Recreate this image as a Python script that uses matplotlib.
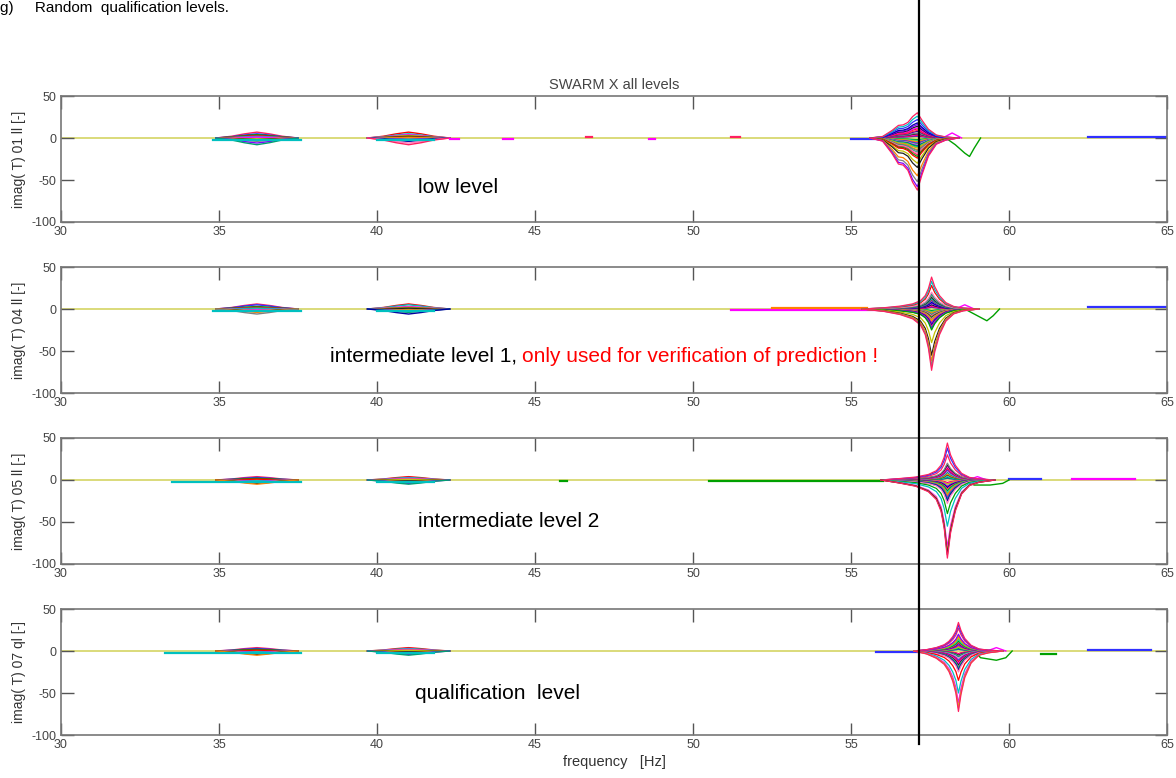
import matplotlib
matplotlib.use("Agg")
import matplotlib.pyplot as plt
import matplotlib.transforms as mtransforms

plt.rcParams["font.family"] = ["Liberation Sans", "DejaVu Sans"]

# panel layout data
level_names = ["low level", "intermediate level 1, ", "intermediate level 2", "qualification  level"]
level_pos = [(41.3, -59), (38.5, -56), (41.3, -49), (41.2, -51)]
ylabels = ["imag( T) 01 ll [-]", "imag( T) 04 ll [-]", "imag( T) 05 ll [-]", "imag( T) 07 ql [-]"]
xticks = [30, 35, 40, 45, 50, 55, 60, 65]
yticks = [-100, -50, 0, 50]
cursor_freq = 57.16

# main resonance: peak frequency per level and normalised envelope shape
peak_freq = [57.1, 57.55, 58.05, 58.4]
shape_df = [
    [-1.5, -1.1, -0.8, -0.6, -0.45, -0.3, -0.15, 0.0, 0.15, 0.35, 0.6, 0.9, 1.3],
    [-2.2, -1.5, -1.0, -0.6, -0.35, -0.2, -0.1, 0.0, 0.1, 0.25, 0.45, 0.7, 1.0, 1.5],
    [-2.1, -1.5, -1.0, -0.6, -0.35, -0.2, -0.1, 0.0, 0.1, 0.25, 0.45, 0.7, 1.0, 1.5],
    [-1.4, -1.0, -0.7, -0.45, -0.3, -0.18, -0.08, 0.0, 0.08, 0.2, 0.4, 0.65, 0.95, 1.4],
]
shape_val = [
    [0.0, 0.06, 0.30, 0.50, 0.52, 0.62, 0.85, 1.0, 0.70, 0.35, 0.12, 0.04, 0.0],
    [0.0, 0.04, 0.09, 0.16, 0.26, 0.42, 0.64, 1.0, 0.70, 0.42, 0.20, 0.08, 0.03, 0.0],
    [0.0, 0.04, 0.08, 0.15, 0.25, 0.40, 0.62, 1.0, 0.68, 0.40, 0.18, 0.07, 0.03, 0.0],
    [0.0, 0.05, 0.12, 0.22, 0.34, 0.50, 0.70, 1.0, 0.72, 0.44, 0.20, 0.07, 0.03, 0.0],
]
peak_amp = [
    [30, 26, 22, 18, 16, 14, 12, 11, 9, 8, 6, 5, 4, 3, 2, -2, -3, -4, -5, -6, -7, -8, -9,
     -10, -11, -12, -14, -15, -17, -18, -20, -22, -24, -30, -35, -45, -52, -58, -62],
    [38, 33, 28, 20, 18, 16, 14, 12, 11, 10, 8, 7, 5, 4, 3, 2, -2, -3, -4, -5, -6,
     -7, -8, -9, -10, -12, -13, -15, -17, -19, -21, -23, -25, -40, -55, -62, -68, -73],
    [44, 38, 30, 20, 18, 16, 14, 12, 11, 9, 7, 6, 4, 3, 2, -3, -4, -5, -7, -8, -9,
     -11, -13, -15, -17, -19, -21, -23, -25, -28, -40, -55, -80, -86, -89, -93],
    [34, 31, 27, 20, 18, 16, 14, 12, 10, 9, 7, 6, 5, 4, 3, 2, -3, -4, -5, -6, -7, -9,
     -11, -13, -15, -17, -19, -21, -23, -25, -35, -50, -62, -68, -72],
]

# small modes near 36 Hz and 41 Hz
bump_freq = [36.2, 41.0]
bump_df = [-1.3, -0.8, -0.4, 0.0, 0.4, 0.8, 1.3]
bump_val = [0.0, 0.3, 0.7, 1.0, 0.7, 0.3, 0.0]
bump_amp = [
    [7, 5, 4, 3, 2, 1, -1, -2, -3, -4, -6, -8],
    [6, 5, 3, 2, 1, -1, -2, -3, -4, -6],
    [4, 3, 2, 1, -1, -2, -3, -4, -5],
    [4, 3, 2, 1, -1, -2, -3, -4, -5],
]

# secondary response curves (frequency, value)
side_f = [
    [58.0, 58.3, 58.6, 58.75, 58.9, 59.1],
    [58.6, 59.0, 59.3, 59.5, 59.7],
    [58.5, 58.9, 59.4, 59.8, 60.0],
    [58.9, 59.1, 59.6, 59.9, 60.1],
]
side_v = [
    [0, -8, -18, -22, -12, 0],
    [0, -8, -14, -8, 0],
    [0, -6, -6, -4, 0],
    [0, -8, -11, -8, 0],
]
side_bump_f = [58.2, 58.6, 59.0, 59.6]
side_bump_v = [6, 5, 4, 4]

# offset segments along the baseline (start, end, level, colour)
offsets = [
    [(34.8, 37.6, -2.0, "#00c0c0"), (40.0, 41.8, -2.0, "#00c0c0"), (55.0, 56.2, -1.0, "#3030ff"),
     (42.3, 42.6, -1.0, "#ff00ff"), (44.0, 44.3, -1.0, "#ff00ff"), (46.6, 46.8, 1.0, "#ff2060"),
     (48.6, 48.8, -1.0, "#ff00ff"), (51.2, 51.5, 1.0, "#ff2060"), (62.5, 65.0, 1.0, "#3030ff")],
    [(34.8, 37.6, -2.0, "#00c0c0"), (40.0, 41.8, -2.0, "#00c0c0"), (51.2, 56.0, -1.0, "#ff00ff"),
     (52.5, 55.5, 1.0, "#ff8000"), (62.5, 65.0, 2.0, "#3030ff")],
    [(33.5, 37.6, -2.5, "#00c0c0"), (40.0, 41.8, -2.0, "#00c0c0"), (50.5, 56.0, -1.5, "#00a000"),
     (45.8, 46.0, -1.0, "#00a000"), (60.0, 61.0, 1.5, "#3030ff"), (62.0, 64.0, 1.0, "#ff00ff")],
    [(33.3, 37.6, -2.5, "#00c0c0"), (40.0, 41.8, -2.0, "#00c0c0"), (55.8, 57.2, -1.5, "#3030ff"),
     (61.0, 61.5, -3.0, "#00a000"), (62.5, 64.5, 0.8, "#3030ff")],
]

colors = ["#ff2060", "#3030ff", "#00a000", "#ff0000", "#00c0c0", "#ff00ff", "#c0c000",
          "#202020", "#ff8000", "#808080", "#8000ff", "#00a070", "#0000a0", "#ff80c0"]

bottoms = [1 - 222 / 778, 1 - 393 / 778, 1 - 564 / 778, 1 - 735 / 778]
left = 61 / 1176
width = 1106 / 1176
height = 126 / 778

fig = plt.figure(figsize=(11.76, 7.78), dpi=100)
axes = []
for i in range(4):
    ax = fig.add_axes([left, bottoms[i], width, height])
    axes.append(ax)

    for k, fb in enumerate(bump_freq):
        for j, a in enumerate(bump_amp[i]):
            f = [fb + d for d in bump_df]
            ax.plot(f, [a * v for v in bump_val], color=colors[(j + 3 * k) % len(colors)], lw=1.0)

    for (f0, f1, lev, c) in offsets[i]:
        ax.plot([f0, f1], [lev, lev], color=c, lw=1.6)

    ax.plot(side_f[i], side_v[i], color="#00a000", lw=1.0)
    fb = side_bump_f[i]
    ax.plot([fb - 0.3, fb, fb + 0.3], [0, side_bump_v[i], 0], color="#ff00ff", lw=1.0)

    amps = sorted(peak_amp[i], key=abs)
    top_pos = max(amps)
    top_neg = min(amps)
    for j, a in enumerate(amps):
        f = [peak_freq[i] + d for d in shape_df[i]]
        v = [a * s for s in shape_val[i]]
        if a in (top_pos, top_neg):
            c = colors[0]
        else:
            c = colors[(j + 1) % len(colors)]
        ax.plot(f, v, color=c, lw=0.9)

    # baseline curve
    ax.plot([30, 65], [0, 0], color="#d8d870", lw=1.3, zorder=1)

    ax.set_xlim(30, 65)
    ax.set_ylim(-100, 50)
    ax.set_xticks(xticks)
    ax.set_yticks(yticks)
    ax.set_yticklabels([str(t) for t in yticks])
    ax.tick_params(direction="in", length=9, width=1, color="#555555",
                   labelsize=9, labelcolor="#444444", top=True, right=True, pad=3)
    for s in ax.spines.values():
        s.set_color("#777777")
        s.set_linewidth(1.2)
    ax.set_ylabel(ylabels[i], fontsize=10, color="#333333", labelpad=4)

axes[0].set_title("SWARM X all levels", fontsize=10.5, color="#444444", pad=5)
axes[3].set_xlabel("frequency   [Hz]", fontsize=10.5, color="#333333", labelpad=3)

# level annotations
for i in range(4):
    x, y = level_pos[i]
    axes[i].text(x, y, level_names[i], fontsize=15, va="center")
fig.canvas.draw()
t1 = axes[1].texts[0]
bb = t1.get_window_extent().transformed(axes[1].transData.inverted())
axes[1].text(bb.x1, level_pos[1][1], "only used for verification of prediction !",
             fontsize=15, color="red", va="center")

# cursor line through all panels
trans = mtransforms.blended_transform_factory(axes[0].transData, fig.transFigure)
fig.add_artist(plt.Line2D([cursor_freq, cursor_freq], [1.0, 1 - 744 / 778],
                          transform=trans, color="black", lw=1.6, zorder=10))

fig.text(0.0, 0.999, "g)     Random  qualification levels.", fontsize=11, va="top", ha="left")

fig.savefig("out.png", dpi=100)
